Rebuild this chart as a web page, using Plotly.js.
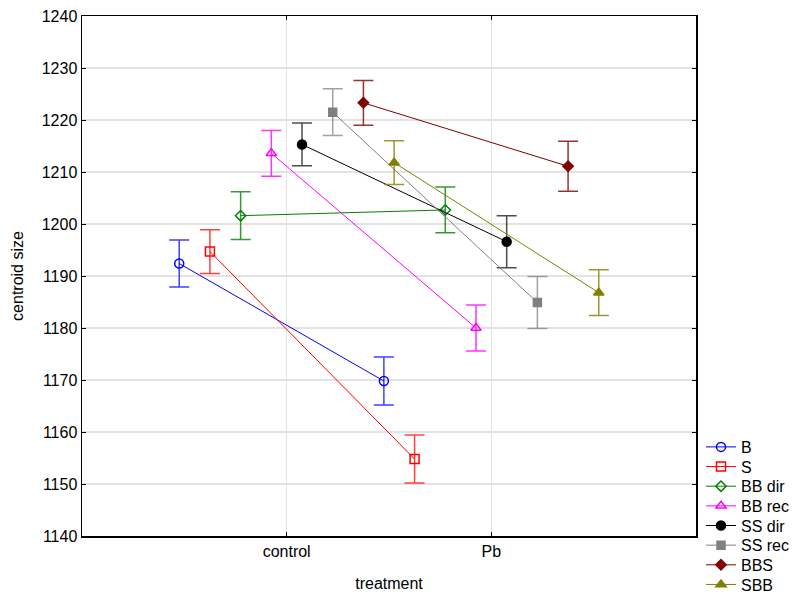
<!DOCTYPE html>
<html>
<head>
<meta charset="utf-8">
<script src="https://cdn.plot.ly/plotly-3.0.1.min.js"></script>
<style>html,body{margin:0;padding:0;background:#fff;}#chart{width:793px;height:599px;}</style>
</head>
<body>
<div id="chart"></div>
<script>
const categories = ["control", "Pb"];
const seriesNames = ["B", "S", "BB dir", "BB rec", "SS dir", "SS rec", "BBS", "SBB"];
const B_mean = [1192.4, 1169.8];
const B_err = [4.5, 4.6];
const S_mean = [1194.7, 1154.8];
const S_err = [4.2, 4.6];
const BBdir_mean = [1201.6, 1202.7];
const BBdir_err = [4.6, 4.4];
const BBrec_mean = [1213.6, 1180.0];
const BBrec_err = [4.4, 4.4];
const SSdir_mean = [1215.3, 1196.6];
const SSdir_err = [4.1, 5.0];
const SSrec_mean = [1221.5, 1184.9];
const SSrec_err = [4.5, 5.0];
const BBS_mean = [1223.3, 1211.1];
const BBS_err = [4.3, 4.8];
const SBB_mean = [1211.8, 1186.8];
const SBB_err = [4.2, 4.4];

const means = [B_mean, S_mean, BBdir_mean, BBrec_mean, SSdir_mean, SSrec_mean, BBS_mean, SBB_mean];
const errs = [B_err, S_err, BBdir_err, BBrec_err, SSdir_err, SSrec_err, BBS_err, SBB_err];

const colors = ["#0000ff", "#ff0000", "#008000", "#ff00ff", "#000000", "#808080", "#800000", "#808000"];
const errColors = ["rgba(0,0,255,0.75)", "rgba(255,0,0,0.75)", "rgba(0,128,0,0.8)", "rgba(255,0,255,0.8)", "rgba(0,0,0,0.7)", "rgba(128,128,128,0.75)", "rgba(128,0,0,0.8)", "rgba(128,128,0,0.8)"];
const symbols = ["circle-open", "square-open", "diamond-open", "triangle-up-open", "circle", "square", "diamond", "triangle-up"];
const sizes = [9, 9, 8, 9, 9, 8, 8, 9];

const step = 0.15;
const W = 793, H = 599, legFirst = 447, legStep = 19.65, legLeft = 701;

const traces = seriesNames.map((name, k) => {
  const off = (k - (seriesNames.length - 1) / 2) * step;
  return {
    type: "scatter",
    mode: "lines+markers",
    name: name,
    legend: k === 0 ? "legend" : "legend" + (k + 1),
    x: categories.map((c, i) => i + off),
    y: means[k],
    error_y: {type: "data", array: errs[k], visible: true, color: errColors[k], thickness: 1.5, width: 10},
    line: {color: colors[k], width: 1},
    marker: {symbol: symbols[k], size: sizes[k], color: colors[k], line: {color: colors[k], width: 1.5}},
    hoverinfo: "x+y+name"
  };
});

const layout = {
  width: W, height: H,
  paper_bgcolor: "#ffffff", plot_bgcolor: "#ffffff",
  margin: {l: 82, r: 97, t: 16, b: 63},
  font: {family: "Liberation Sans, Arial, sans-serif", size: 16, color: "#000"},
  showlegend: true,
  xaxis: {
    range: [-1, 2], tickvals: categories.map((c, i) => i), ticktext: categories,
    showgrid: true, gridcolor: "#e3e3e3", gridwidth: 1.2, zeroline: false,
    showline: true, linecolor: "#000", linewidth: 1.5, mirror: "ticks",
    ticks: "inside", ticklen: 4, tickcolor: "#000",
    tickfont: {size: 16}, title: {text: "treatment", font: {size: 16}, standoff: 19}
  },
  yaxis: {
    range: [1140, 1240], dtick: 10, tick0: 1140,
    showgrid: true, gridcolor: "#e3e3e3", gridwidth: 1.2, zeroline: false,
    showline: true, linecolor: "#000", linewidth: 1.5, mirror: "ticks",
    ticks: "inside", ticklen: 4, tickcolor: "#000",
    tickfont: {size: 16}, title: {text: "centroid size", font: {size: 16}, standoff: 14}
  }
};

seriesNames.forEach((name, k) => {
  const key = k === 0 ? "legend" : "legend" + (k + 1);
  const yPix = legFirst + k * legStep;
  layout[key] = {
    xref: "container", yref: "container",
    x: legLeft / W, xanchor: "left",
    y: 1 - yPix / H, yanchor: "middle",
    font: {size: 16}, bgcolor: "rgba(0,0,0,0)", itemwidth: 30, borderwidth: 0
  };
});

Plotly.newPlot("chart", traces, layout, {displayModeBar: false, staticPlot: true});
</script>
</body>
</html>
